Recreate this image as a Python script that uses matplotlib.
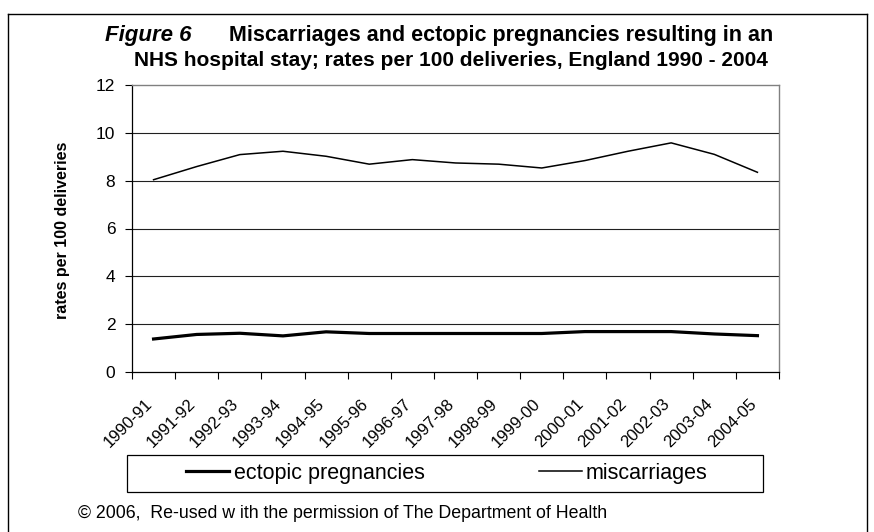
import matplotlib
matplotlib.use("Agg")
import matplotlib.pyplot as plt
import numpy as np
from matplotlib.lines import Line2D
from matplotlib.patches import Rectangle
from matplotlib.transforms import ScaledTranslation

plt.rcParams['font.family'] = ['Liberation Sans', 'DejaVu Sans']

categories = ["1990-91", "1991-92", "1992-93", "1993-94", "1994-95", "1995-96",
              "1996-97", "1997-98", "1998-99", "1999-00", "2000-01", "2001-02",
              "2002-03", "2003-04", "2004-05"]
miscarriages = [8.04, 8.59, 9.09, 9.23, 9.02, 8.69, 8.88, 8.74, 8.69, 8.53,
                8.84, 9.23, 9.58, 9.10, 8.35]
ectopic = [1.38, 1.57, 1.62, 1.51, 1.68, 1.61, 1.61, 1.61, 1.61, 1.61,
           1.69, 1.69, 1.69, 1.59, 1.52]
yticks = [0, 2, 4, 6, 8, 10, 12]

W, H = 874, 532
DPI = 100
fig = plt.figure(figsize=(W / DPI, H / DPI), dpi=DPI)

def fx(px):
    return px / W

def fy(py):
    return 1 - py / H

L, R, T, B = 132, 779, 85, 372
ax = fig.add_axes([fx(L), fy(B), fx(R) - fx(L), fy(T) - fy(B)])

x = np.arange(len(categories))
ax.plot(x, miscarriages, color='black', lw=1.1, zorder=3)
ax.plot(x, ectopic, color='black', lw=2.3, zorder=3)

ax.set_xlim(-0.5, len(categories) - 0.5)
ax.set_ylim(0, 12)
ax.set_yticks(yticks)
ax.set_yticklabels([str(v) for v in yticks], fontsize=12.5)
for v in yticks[1:-1]:
    ax.axhline(v, color='#202020', lw=0.8, zorder=1)

ax.set_xticks(np.arange(-0.5, len(categories)))
ax.set_xticklabels([])
ax.tick_params(axis='x', which='major', length=5, width=0.8, direction='out')
ax.tick_params(axis='y', length=5, width=0.8, direction='out', pad=7)

# rotated category labels
for i, lab in enumerate(categories):
    tr = ax.get_xaxis_transform() + ScaledTranslation(-9 / DPI, -24 / DPI, fig.dpi_scale_trans)
    ax.text(i, 0, lab, transform=tr, rotation=45, ha='right', va='top',
            rotation_mode='anchor', fontsize=12, clip_on=False)

for s in ['top', 'right']:
    ax.spines[s].set_color('#808080')
    ax.spines[s].set_linewidth(1.0)
for s in ['left', 'bottom']:
    ax.spines[s].set_color('black')
    ax.spines[s].set_linewidth(0.9)

fig.text(fx(63), fy(230), 'rates per 100 deliveries', rotation=90,
         ha='center', va='center', fontsize=11.5, fontweight='bold')

# Title
fig.text(fx(105), fy(35), 'Figure 6', ha='left', va='center', fontsize=16,
         fontweight='bold', fontstyle='italic')
fig.text(fx(773), fy(35), 'Miscarriages and ectopic pregnancies resulting in an',
         ha='right', va='center', fontsize=15.5, fontweight='bold')
fig.text(fx(768), fy(61), 'NHS hospital stay; rates per 100 deliveries, England 1990 - 2004',
         ha='right', va='center', fontsize=15, fontweight='bold')

# Legend
fig.add_artist(Rectangle((fx(127), fy(492)), fx(763) - fx(127), fy(455) - fy(492),
                         transform=fig.transFigure, fill=False, edgecolor='black', lw=0.9))
handles = [Line2D([], [], color='black', lw=2.3),
           Line2D([], [], color='black', lw=1.1)]
fig.legend(handles, ['ectopic pregnancies', 'miscarriages'], ncol=2,
           loc='center', bbox_to_anchor=(fx(447), fy(473.5)), frameon=False,
           fontsize=15.5, handlelength=2.0, handletextpad=0.2, columnspacing=5.3,
           borderpad=0)

fig.text(fx(78), fy(513), '\u00a9 2006,  Re-used w ith the permission of The Department of Health',
         ha='left', va='center', fontsize=12.75)

# Outer border
for (x0, y0, x1, y1) in [(8, 14, 867, 14), (8, 14, 8, 532), (867, 14, 867, 532)]:
    fig.add_artist(Line2D([fx(x0), fx(x1)], [fy(y0), fy(y1)], color='black', lw=1.0,
                          transform=fig.transFigure))

fig.savefig('out.png', dpi=DPI)
